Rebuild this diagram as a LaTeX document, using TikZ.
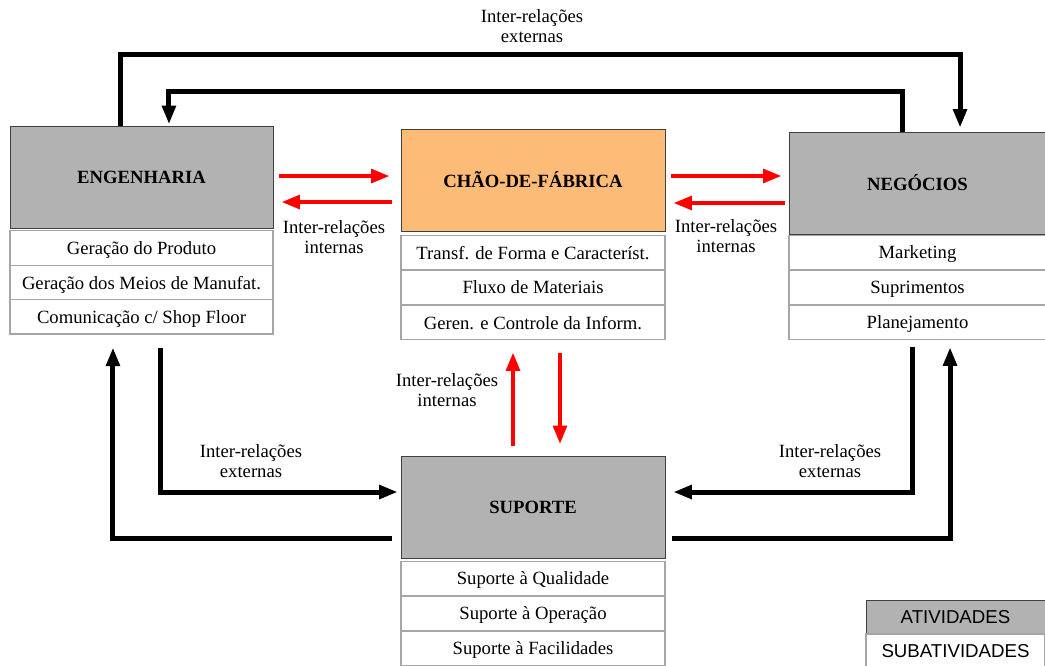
\documentclass[tikz,border=0pt]{standalone}
\usepackage{fontspec}
\setmainfont{Liberation Serif}
\newfontfamily\legendfont{Liberation Sans}
\usepackage{tikz}
\usetikzlibrary{arrows.meta}
\definecolor{shopfloororange}{RGB}{253,187,120}
\def\px{0.75pt}

\begin{document}
\begin{tikzpicture}[x=\px,y=-\px,font=\fontsize{14}{15.5}\selectfont]
		\tikzstyle{activity}=[draw=black!75, fill=black!30, minimum height=76.5pt, inner sep=0pt, font=\fontsize{14}{15.5}\selectfont\bfseries]
		\tikzstyle{shopfloor}=[activity, fill=shopfloororange];
		\tikzstyle{subactivity}=[draw=black!35, line width=0.8pt, fill=white, minimum height=25.8pt, inner sep=0pt, text depth=0pt];
		\tikzstyle{internal}=[red, line width=3.4pt, -{Triangle[length=14pt,width=10pt]}];
		\tikzstyle{external}=[black, line width=3.75pt, -{Triangle[length=14pt,width=10pt]}];
		\tikzstyle{annot}=[align=center, inner sep=0pt];
		\useasboundingbox (0,0) rectangle (1045,666);
		
		% Draw the activity nodes
		\node[activity, minimum width=197.25pt] (E) at (141.5,177.5) {ENGENHARIA};
		\node[shopfloor, minimum width=198pt] (C) at (533,180) {CHÃO-DE-FÁBRICA};
		\node[activity, minimum width=192.75pt] (N) at (917.5,183) {NEGÓCIOS};
		\node[activity, minimum width=198pt] (S) at (533,507.5) {SUPORTE};
		
		% Draw the subactivity nodes below each activity
		\foreach \i/\txt in {1/Geração do Produto, 2/Geração dos Meios de Manufat., 3/{Comunicação c/ Shop Floor}}
		\node[subactivity, minimum width=197.25pt] (E-\i) at (141.5,{231+34.33*\i-17.17}) {\txt};
		\foreach \i/\txt in {1/Transf. de Forma e Característ., 2/Fluxo de Materiais, 3/Geren. e Controle da Inform.}
		\node[subactivity, minimum width=198pt] (C-\i) at (533,{235+35*\i-17.5}) {\txt};
		\foreach \i/\txt in {1/Marketing, 2/Suprimentos, 3/Planejamento}
		\node[subactivity, minimum width=192.75pt] (N-\i) at (917.5,{235+35*\i-17.5}) {\txt};
		\foreach \i/\txt in {1/Suporte à Qualidade, 2/Suporte à Operação, 3/Suporte à Facilidades}
		\node[subactivity, minimum width=198pt] (S-\i) at (533,{561+35*\i-17.5}) {\txt};
		
		% External relations over the top
		\coordinate (outer) at (532,55);
		\coordinate (inner) at (532,92);
		\draw[external, shorten >=3pt] ([xshift=-15.4pt]E.north) |- (outer) -| ([xshift=31.9pt]N.north);
		\draw[external, shorten >=1.5pt] ([xshift=-10.9pt]N.north) |- (inner) -| ([xshift=20.6pt]E.north);
		
		% External relations with the support
		\draw[external, shorten <=9.75pt, shorten >=2.25pt] ([xshift=13.9pt]E-3.south) |- ([yshift=11.6pt]S.west);
		\draw[external, shorten <=6.75pt, shorten >=9.75pt] ([yshift=-23.6pt]S.west) -| ([xshift=-21.4pt]E-3.south);
		\draw[external, shorten <=5.25pt, shorten >=6pt] ([xshift=-4.1pt]N-3.south) |- ([yshift=11.6pt]S.east);
		\draw[external, shorten <=5.25pt, shorten >=5.25pt] ([yshift=-23.6pt]S.east) -| ([xshift=24.4pt]N-3.south);
		
		% Internal relations with the shop floor
		\draw[internal, shorten <=4.5pt, shorten >=8.25pt] ([yshift=1.1pt]E.east) -- ([yshift=1.1pt]E.east -| C.west);
		\draw[internal, shorten <=6.75pt, shorten >=6pt] ([yshift=-18.4pt]E.east -| C.west) -- ([yshift=-18.4pt]E.east);
		\draw[internal, shorten <=4.5pt, shorten >=5.25pt] ([yshift=3pt]C.east) -- ([yshift=3pt]C.east -| N.west);
		\draw[internal, shorten <=3pt, shorten >=6pt] ([yshift=-17.25pt]C.east -| N.west) -- ([yshift=-17.25pt]C.east);
		\draw[internal, shorten <=7.5pt, shorten >=9pt] ([xshift=-15pt]S.north) -- ([xshift=-15pt]S.north |- C-3.south);
		\draw[internal, shorten <=9.75pt, shorten >=9pt] ([xshift=20.25pt]C-3.south) -- ([xshift=20.25pt]C-3.south |- S.north);
		
		% Annotate the relations
		\node[annot] (ext-top) at (532,26) {Inter-relações\\externas};
		\node[annot] (int-left) at (334,237) {Inter-relações\\internas};
		\node[annot] (int-right) at (726,236) {Inter-relações\\internas};
		\node[annot] (int-down) at (447,390) {Inter-relações\\internas};
		\node[annot] (ext-left) at (251,461) {Inter-relações\\externas};
		\node[annot] (ext-right) at (830,461) {Inter-relações\\externas};
		
		% Legend
		\node[activity, minimum width=134.25pt, minimum height=25.5pt, font=\fontsize{14}{15.5}\selectfont\legendfont] (L-1) at (955.5,617) {ATIVIDADES};
		\node[subactivity, minimum width=134.25pt, minimum height=24.75pt, font=\fontsize{14}{15.5}\selectfont\legendfont] (L-2) at (955.5,650.5) {SUBATIVIDADES};
	\end{tikzpicture}
\end{document}
